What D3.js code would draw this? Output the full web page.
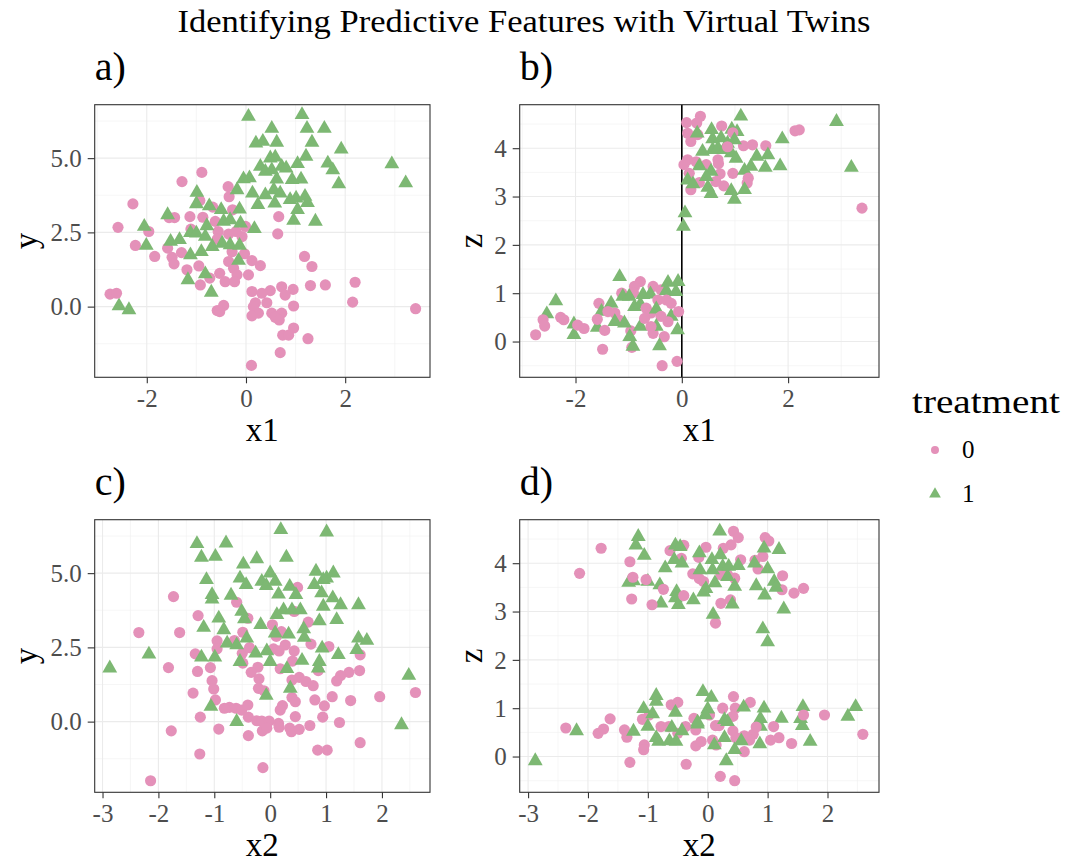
<!DOCTYPE html>
<html>
<head>
<meta charset="utf-8">
<script src="https://cdn.jsdelivr.net/npm/d3@7"></script>
<style>
  body { margin: 0; background: #fff; }
  svg { display: block; font-family: "Liberation Serif", "DejaVu Serif", serif; }
</style>
</head>
<body>
<svg id="chart" width="1067" height="864"></svg>
<script>
// values, [x, y] pairs, one array per panel and treatment
const x1yTreat0 = [[-0.89,4.52],[-1.29,4.21],[-2.28,3.46],[-2.58,2.67],[-1.96,2.53],[-2.23,2.06],[-1.84,1.69],[-1.58,1.97],[-1.49,1.66],[-1.45,1.44],[-1.3,1.82],[-1.19,1.24],[-0.95,1.37],[-1.55,3.0],[-1.44,3.0],[-1.13,3.03],[-0.87,3.01],[-0.93,3.57],[-0.67,3.35],[-0.36,4.04],[-0.34,3.7],[-0.27,3.26],[-1.11,2.61],[-0.62,2.87],[-0.56,2.53],[-0.58,2.27],[-0.35,2.44],[-0.2,2.53],[-0.08,2.36],[-0.01,2.7],[-0.28,1.85],[-0.03,1.78],[0.12,1.55],[0.29,1.38],[-0.35,1.52],[-0.25,1.29],[-0.18,1.07],[0.05,1.07],[-0.53,1.12],[-0.42,0.84],[-0.23,0.84],[-0.73,0.96],[-0.92,0.73],[0.66,3.03],[0.64,2.45],[1.18,1.69],[1.33,1.35],[1.3,0.71],[1.6,0.73],[2.2,0.82],[0.72,0.67],[0.95,0.58],[0.49,0.54],[0.12,0.51],[0.32,0.45],[0.79,0.39],[0.19,0.13],[0.42,0.13],[0.96,0.02],[0.15,0.0],[0.25,-0.22],[0.12,-0.31],[0.52,-0.22],[0.72,-0.22],[0.59,-0.36],[0.67,-0.45],[0.96,-0.72],[0.74,-0.96],[0.86,-0.96],[1.25,-1.08],[0.69,-1.55],[0.11,-1.98],[2.15,0.15],[3.42,-0.07],[-2.74,0.42],[-2.61,0.45],[-0.58,-0.13],[-0.45,0.04],[-0.53,-0.17]];
const x1yTreat1 = [[0.05,6.4],[1.13,6.46],[0.52,6.0],[1.23,6.0],[1.58,6.0],[0.2,5.5],[0.34,5.56],[0.62,5.53],[1.33,5.53],[1.92,5.3],[2.94,4.8],[3.22,4.16],[1.21,5.06],[1.04,4.81],[1.65,4.83],[1.75,4.6],[1.87,4.13],[0.49,5.0],[0.59,5.03],[0.29,4.72],[0.39,4.55],[0.52,4.6],[0.72,4.72],[0.81,4.66],[0.62,4.29],[0.93,4.27],[1.11,4.29],[-0.05,4.3],[0.07,4.33],[-0.18,3.93],[0.13,3.82],[0.39,3.76],[0.56,3.93],[0.69,3.82],[0.58,3.48],[0.24,3.43],[0.89,3.6],[1.01,3.65],[1.19,3.71],[1.24,3.5],[1.04,3.26],[0.96,2.9],[1.4,2.87],[-0.99,3.84],[-1.0,3.46],[-0.74,3.39],[-0.5,3.26],[-0.13,3.28],[-1.58,3.09],[-2.05,2.7],[-2.01,2.06],[-1.52,2.19],[-1.34,2.25],[-1.12,2.49],[-1.0,2.47],[-0.79,2.72],[-0.82,2.36],[-0.68,2.02],[-0.45,2.87],[-0.32,2.92],[-0.11,2.81],[0.17,2.62],[-0.48,2.13],[-0.32,2.08],[-0.13,2.06],[-1.12,1.74],[-0.9,1.85],[-0.15,1.55],[-0.82,1.1],[-1.17,0.9],[-0.7,0.48],[-2.56,0.02],[-2.36,-0.11]];

const x1zTreat0 = [[0.35,4.66],[0.09,4.53],[0.28,4.52],[0.11,4.31],[0.3,4.28],[0.17,4.14],[0.75,4.46],[0.96,4.32],[1.16,4.05],[1.33,4.07],[1.58,4.05],[2.13,4.36],[2.21,4.38],[3.39,2.76],[0.04,3.66],[0.11,3.76],[0.27,3.72],[0.46,3.66],[0.68,3.76],[0.69,3.68],[0.72,3.47],[0.96,3.48],[0.79,3.22],[0.64,3.31],[0.33,3.29],[0.17,3.14],[0.14,3.48],[1.25,3.38],[1.23,3.28],[0.86,4.03],[-0.78,1.24],[-0.89,1.14],[-1.13,1.0],[-0.91,1.01],[-0.54,1.14],[-0.39,1.07],[-1.56,0.79],[-2.28,0.5],[-2.22,0.45],[-2.61,0.45],[-2.58,0.32],[-2.75,0.14],[-1.96,0.34],[-1.84,0.27],[-1.59,0.46],[-1.45,0.23],[-1.49,-0.16],[-1.39,0.62],[-1.26,0.59],[-1.19,0.45],[-0.96,0.22],[-0.94,-0.12],[-0.67,0.69],[-0.58,0.59],[-0.45,0.86],[-0.29,0.86],[-0.2,0.79],[-0.06,0.62],[-0.39,0.52],[-0.26,0.41],[-0.54,0.17],[-0.33,0.1],[-0.37,-0.5],[-0.09,-0.41],[-0.7,0.48],[-0.58,0.31]];
const x1zTreat1 = [[1.11,4.66],[2.91,4.55],[1.89,4.19],[3.19,3.6],[0.56,4.38],[0.94,4.39],[1.04,4.34],[0.29,4.31],[0.58,4.19],[0.74,4.21],[0.86,4.1],[0.99,4.17],[0.39,3.93],[0.58,3.97],[0.68,4.0],[0.8,3.97],[0.93,3.9],[1.02,3.79],[1.41,3.83],[1.62,3.86],[1.57,3.6],[1.85,3.63],[1.3,3.62],[1.18,3.54],[0.33,3.63],[0.55,3.52],[0.46,3.41],[0.11,3.34],[0.21,3.26],[0.49,3.19],[0.55,3.06],[0.93,3.12],[1.18,3.14],[0.99,2.94],[0.06,2.66],[0.03,2.38],[-1.17,1.34],[-2.37,0.84],[-2.54,0.57],[-2.03,0.36],[-2.03,0.14],[-1.59,0.29],[-1.33,0.79],[-1.51,0.62],[-1.11,0.93],[-0.99,0.93],[-0.73,0.97],[-0.59,0.98],[-0.89,0.72],[-0.78,0.77],[-0.26,1.22],[-0.07,1.24],[-0.29,1.05],[-0.11,1.03],[-0.48,0.67],[-0.2,0.52],[-1.08,0.38],[-0.98,0.1],[-0.92,-0.1],[-0.78,0.31],[-0.48,0.31],[-0.08,0.24],[-0.42,-0.09],[-1.26,0.41]];

const x2yTreat0 = [[-1.73,4.21],[-2.35,3.0],[-1.62,3.0],[-1.29,3.57],[-0.6,4.02],[-0.4,3.48],[0.49,4.52],[0.43,3.71],[0.68,3.35],[0.04,3.26],[0.2,3.03],[0.11,2.87],[-0.95,2.72],[-0.95,2.45],[-0.64,2.73],[-0.49,3.01],[-0.5,2.3],[-0.49,1.97],[-0.37,2.49],[-1.34,2.28],[-1.3,1.69],[-1.07,1.82],[-1.04,1.38],[-1.01,1.1],[-1.38,0.96],[-0.98,0.73],[-1.82,1.82],[0.06,2.45],[0.16,2.38],[0.27,2.58],[0.43,2.38],[0.4,2.04],[0.18,1.78],[0.39,1.4],[0.52,1.49],[0.64,1.35],[0.77,1.21],[0.73,2.61],[1.05,2.53],[0.86,1.72],[1.61,2.25],[1.6,1.72],[1.41,1.66],[1.26,1.55],[1.19,1.37],[1.11,0.84],[1.44,0.71],[1.96,0.84],[2.6,0.98],[-0.22,1.83],[-0.34,1.66],[-0.2,1.44],[-0.21,1.12],[-0.11,1.04],[0.39,0.81],[0.45,0.67],[0.22,0.54],[0.18,0.39],[0.8,0.73],[0.97,0.53],[0.94,0.15],[1.24,-0.03],[1.61,-0.71],[0.85,-0.96],[1.02,-0.96],[-0.73,0.48],[-0.82,0.45],[-0.61,0.45],[-0.51,0.39],[-0.4,0.56],[-0.39,0.15],[-0.24,0.03],[-0.15,0.02],[-0.02,0.02],[0.15,-0.06],[0.16,-0.19],[0.35,-0.22],[0.38,-0.34],[0.52,-0.26],[0.71,-0.13],[0.45,0.17],[-0.14,-0.31],[-0.06,-0.22],[-0.39,-0.47],[-0.92,-0.25],[-1.25,0.15],[-1.77,-0.31],[-1.26,-1.09],[-0.13,-1.55],[-2.14,-1.99]];
const x2yTreat1 = [[0.19,6.46],[1.01,6.38],[-1.31,5.99],[-0.79,6.01],[-1.23,5.53],[-0.98,5.56],[-0.48,5.3],[-0.24,5.48],[0.29,5.53],[-1.14,4.78],[-1.04,4.27],[-1.04,4.12],[-0.7,4.25],[-0.54,4.83],[-0.43,4.61],[-0.15,4.72],[-0.07,4.58],[0.0,5.0],[0.09,4.72],[0.15,4.29],[0.35,4.55],[0.46,4.27],[0.82,5.06],[0.79,4.61],[0.95,4.78],[1.01,4.83],[1.13,5.0],[0.92,4.33],[1.12,4.16],[0.95,3.88],[1.26,3.93],[1.58,3.93],[0.88,3.39],[1.19,3.43],[-0.51,3.71],[-0.46,3.46],[-0.92,3.48],[-1.19,3.17],[-0.83,3.09],[-0.17,3.26],[0.12,3.6],[0.24,3.76],[0.39,3.76],[0.54,3.76],[0.33,2.94],[0.6,3.12],[0.61,2.83],[-0.77,2.64],[-0.6,2.58],[-0.42,2.81],[0.09,2.98],[-2.17,2.27],[-2.87,1.8],[-1.23,2.17],[-0.99,2.17],[-0.54,2.02],[-0.26,2.3],[-0.06,2.38],[0.0,2.02],[0.3,1.78],[0.57,2.06],[0.88,2.02],[0.86,1.8],[0.93,2.47],[1.22,2.25],[1.58,2.81],[1.73,2.73],[1.55,2.42],[2.48,1.55],[2.35,-0.11],[-0.07,0.88],[0.36,1.12],[-1.06,0.51],[-0.6,0.0]];

const x2zTreat0 = [[0.43,4.66],[0.51,4.53],[0.39,4.38],[0.26,4.31],[-0.03,4.33],[-0.4,4.37],[-0.63,4.26],[-0.44,4.1],[-0.15,4.12],[-1.78,4.31],[-2.14,3.79],[-1.3,4.03],[-1.25,3.71],[-1.03,3.66],[-1.27,3.26],[-0.93,3.14],[-0.74,3.46],[-0.4,3.33],[-0.25,3.78],[-0.14,3.68],[-0.07,3.62],[0.22,3.76],[0.33,3.76],[0.45,3.69],[0.55,4.07],[0.22,3.17],[0.38,3.24],[0.13,2.76],[0.79,4.06],[0.92,4.14],[0.84,3.88],[0.96,4.53],[1.02,4.46],[1.25,3.74],[1.24,3.45],[1.44,3.38],[1.6,3.48],[0.43,1.24],[0.71,1.12],[-0.61,1.07],[-0.5,1.12],[0.25,1.0],[0.46,1.0],[0.42,0.83],[0.03,0.86],[-0.23,0.79],[-0.98,0.86],[-1.09,0.77],[-1.63,0.78],[-2.37,0.59],[-1.83,0.48],[-1.74,0.57],[-1.39,0.55],[-1.35,0.4],[-1.06,0.24],[-1.07,0.14],[-1.3,-0.12],[-0.78,0.62],[-0.65,0.62],[-0.5,0.48],[-0.37,0.62],[-0.2,0.55],[0.13,0.64],[0.19,0.64],[0.42,0.53],[0.47,0.39],[0.61,0.43],[0.76,0.46],[0.7,0.34],[0.81,0.61],[0.61,0.1],[0.08,0.34],[0.14,0.24],[-0.2,0.22],[-0.11,0.31],[-0.36,-0.16],[0.21,-0.41],[0.45,-0.5],[1.1,0.62],[1.05,0.34],[1.19,0.39],[1.4,0.27],[1.6,0.86],[1.95,0.86],[2.59,0.46]];
const x2zTreat1 = [[0.2,4.66],[-1.16,4.55],[-1.2,4.37],[-1.06,4.16],[-1.32,3.6],[-1.24,3.63],[-1.0,3.62],[-0.8,3.55],[-0.78,3.17],[-0.71,3.9],[-0.54,4.37],[-0.46,4.34],[-0.56,4.07],[-0.43,4.0],[-0.52,3.41],[-0.54,3.28],[-0.49,3.14],[-0.24,3.24],[-0.14,4.21],[-0.13,3.86],[-0.07,3.4],[-0.03,3.47],[0.07,4.07],[0.08,3.86],[0.12,3.59],[0.21,4.17],[0.25,3.93],[0.35,3.93],[0.33,3.72],[0.45,3.52],[0.51,3.95],[0.41,3.15],[0.09,2.94],[0.78,4.0],[0.81,3.53],[0.94,4.31],[1.0,3.88],[0.95,3.34],[1.19,4.28],[1.11,3.62],[1.14,3.5],[1.27,3.05],[0.92,2.64],[1.0,2.37],[-0.08,1.34],[0.06,1.22],[-0.86,1.26],[-0.86,1.14],[-1.07,0.99],[-0.92,0.88],[-0.54,0.91],[0.0,0.98],[-0.04,0.86],[0.6,1.02],[0.94,1.0],[0.88,0.78],[0.88,0.62],[1.23,0.79],[1.59,1.03],[1.55,0.78],[1.58,0.64],[2.34,0.83],[2.47,1.03],[1.71,0.31],[0.87,0.26],[-2.19,0.53],[-2.88,-0.09],[-1.24,0.52],[-1.0,0.62],[-0.86,0.39],[-0.82,0.31],[-0.64,0.32],[-0.53,0.31],[-0.6,0.6],[-0.43,0.53],[-0.17,0.67],[-0.17,0.71],[0.28,0.76],[0.33,0.72],[0.31,-0.09],[0.45,0.14],[0.56,0.32],[0.11,0.24],[0.28,0.39]];

// tick values
const x1Ticks = [-2, 0, 2];
const x2Ticks = [-3, -2, -1, 0, 1, 2];
const yTicks = [0, 2.5, 5];
const yTickLabels = ["0.0", "2.5", "5.0"];
const zTicks = [0, 1, 2, 3, 4];

const treatmentLevels = ["0", "1"];
const colors = {"0": "#e491b9", "1": "#7db873"};

const svg = d3.select("#chart");
svg.append("rect").attr("width", 1067).attr("height", 864).attr("fill", "#fff");

svg.append("text")
    .attr("x", 524).attr("y", 32)
    .attr("text-anchor", "middle")
    .attr("font-size", 31)
    .attr("textLength", 693)
    .attr("lengthAdjust", "spacingAndGlyphs")
    .text("Identifying Predictive Features with Virtual Twins");

/** Draw one scatter panel */
function drawPanel(p) {
    const x = d3.scaleLinear().domain(p.xDomain).range([p.left, p.right]);
    const y = d3.scaleLinear().domain(p.yDomain).range([p.bottom, p.top]);
    const g = svg.append("g");

    // minor grid: midpoints between major ticks
    const minor = function (ticks, domain) {
        const step = ticks[1] - ticks[0];
        const out = [];
        for (let v = ticks[0] - step / 2; v <= domain[1]; v += step) {
            if (v >= domain[0]) out.push(v);
        }
        return out;
    };

    g.selectAll(".xminor").data(minor(p.xTicks, p.xDomain)).enter().append("line")
        .attr("x1", d => x(d)).attr("x2", d => x(d))
        .attr("y1", p.top).attr("y2", p.bottom)
        .attr("stroke", "#f0f0f0").attr("stroke-width", 0.6);
    g.selectAll(".yminor").data(minor(p.yTicks, p.yDomain)).enter().append("line")
        .attr("y1", d => y(d)).attr("y2", d => y(d))
        .attr("x1", p.left).attr("x2", p.right)
        .attr("stroke", "#f0f0f0").attr("stroke-width", 0.6);
    g.selectAll(".xmajor").data(p.xTicks).enter().append("line")
        .attr("x1", d => x(d)).attr("x2", d => x(d))
        .attr("y1", p.top).attr("y2", p.bottom)
        .attr("stroke", "#ebebeb").attr("stroke-width", 1.1);
    g.selectAll(".ymajor").data(p.yTicks).enter().append("line")
        .attr("y1", d => y(d)).attr("y2", d => y(d))
        .attr("x1", p.left).attr("x2", p.right)
        .attr("stroke", "#ebebeb").attr("stroke-width", 1.1);

    if (p.vline !== undefined) {
        g.append("line")
            .attr("x1", x(p.vline)).attr("x2", x(p.vline))
            .attr("y1", p.top).attr("y2", p.bottom)
            .attr("stroke", "#000").attr("stroke-width", 1.6);
    }

    // points, interleaved so neither group sits fully on top
    const pts = [];
    const n = Math.max(p.t0.length, p.t1.length);
    for (let i = 0; i < n; i++) {
        if (i < p.t0.length) pts.push({v: p.t0[i], t: "0"});
        if (i < p.t1.length) pts.push({v: p.t1[i], t: "1"});
    }
    const circle = d3.symbol().type(d3.symbolCircle).size(98);
    const tri = d3.symbol().type(d3.symbolTriangle).size(95);
    g.append("g").selectAll("path").data(pts).enter().append("path")
        .attr("transform", d => "translate(" + x(d.v[0]) + "," + y(d.v[1]) + ")")
        .attr("d", d => d.t === "0" ? circle() : tri())
        .attr("fill", d => colors[d.t]);

    g.append("rect")
        .attr("x", p.left).attr("y", p.top)
        .attr("width", p.right - p.left).attr("height", p.bottom - p.top)
        .attr("fill", "none").attr("stroke", "#333").attr("stroke-width", 1.1);

    const xAxis = d3.axisBottom(x).tickValues(p.xTicks).tickSize(6).tickPadding(6)
        .tickFormat(d => String(d));
    const ax = g.append("g").attr("transform", "translate(0," + p.bottom + ")").call(xAxis);
    const yAxis = d3.axisLeft(y).tickValues(p.yTicks).tickSize(7).tickPadding(6)
        .tickFormat((d, i) => p.yLabels ? p.yLabels[i] : String(d));
    const ay = g.append("g").attr("transform", "translate(" + p.left + ",0)").call(yAxis);
    [ax, ay].forEach(function (a) {
        a.select(".domain").remove();
        a.selectAll(".tick line").attr("stroke", "#333").attr("stroke-width", 1.1);
        a.selectAll(".tick text")
            .attr("fill", "#4d4d4d")
            .attr("font-size", 25)
            .attr("font-family", "Liberation Serif, serif");
    });
    ax.selectAll(".tick text").attr("dy", "0.71em");
    ay.selectAll(".tick text").attr("dy", "0.33em");

    g.append("text")
        .attr("x", (p.left + p.right) / 2).attr("y", p.bottom + 64)
        .attr("text-anchor", "middle").attr("font-size", 33)
        .text(p.xTitle);
    g.append("text")
        .attr("transform", "translate(" + p.yTitleX + "," + ((p.top + p.bottom) / 2) + ") rotate(-90)")
        .attr("text-anchor", "middle").attr("dy", "0.3em").attr("font-size", 33)
        .text(p.yTitle);
    g.append("text")
        .attr("x", p.left).attr("y", p.top - 25)
        .attr("font-size", 40)
        .text(p.tag);
}

const x1Domain = [-3.05, 3.71];
const x2Domain = [-3.14, 2.86];
const yDomain = [-2.38, 6.8];
const zDomain = [-0.74, 4.9];

drawPanel({left: 94.7, right: 430, top: 104.7, bottom: 377.3, xDomain: x1Domain, yDomain: yDomain,
    xTicks: x1Ticks, yTicks: yTicks, yLabels: yTickLabels, t0: x1yTreat0, t1: x1yTreat1,
    xTitle: "x1", yTitle: "y", yTitleX: 27, tag: "a)"});
drawPanel({left: 519.7, right: 879, top: 104.7, bottom: 377.3, xDomain: x1Domain, yDomain: zDomain,
    xTicks: x1Ticks, yTicks: zTicks, t0: x1zTreat0, t1: x1zTreat1, vline: 0,
    xTitle: "x1", yTitle: "z", yTitleX: 472, tag: "b)"});
drawPanel({left: 94.7, right: 430, top: 519.7, bottom: 792.3, xDomain: x2Domain, yDomain: yDomain,
    xTicks: x2Ticks, yTicks: yTicks, yLabels: yTickLabels, t0: x2yTreat0, t1: x2yTreat1,
    xTitle: "x2", yTitle: "y", yTitleX: 27, tag: "c)"});
drawPanel({left: 519.7, right: 879, top: 519.7, bottom: 792.3, xDomain: x2Domain, yDomain: zDomain,
    xTicks: x2Ticks, yTicks: zTicks, t0: x2zTreat0, t1: x2zTreat1,
    xTitle: "x2", yTitle: "z", yTitleX: 472, tag: "d)"});

// legend
const legend = svg.append("g").attr("transform", "translate(912,0)");
legend.append("text").attr("x", 0).attr("y", 413).attr("font-size", 34)
    .attr("textLength", 148).attr("lengthAdjust", "spacingAndGlyphs").text("treatment");
const keys = legend.selectAll(".key").data(treatmentLevels).enter().append("g")
    .attr("transform", (d, i) => "translate(0," + (450 + i * 44) + ")");
keys.append("path")
    .attr("transform", "translate(23,0)")
    .attr("d", d => d3.symbol().type(d === "0" ? d3.symbolCircle : d3.symbolTriangle).size(d === "0" ? 50 : 60)())
    .attr("fill", d => colors[d]);
keys.append("text").attr("x", 50).attr("dy", "0.33em").attr("font-size", 25).text(d => d);
</script>
</body>
</html>
